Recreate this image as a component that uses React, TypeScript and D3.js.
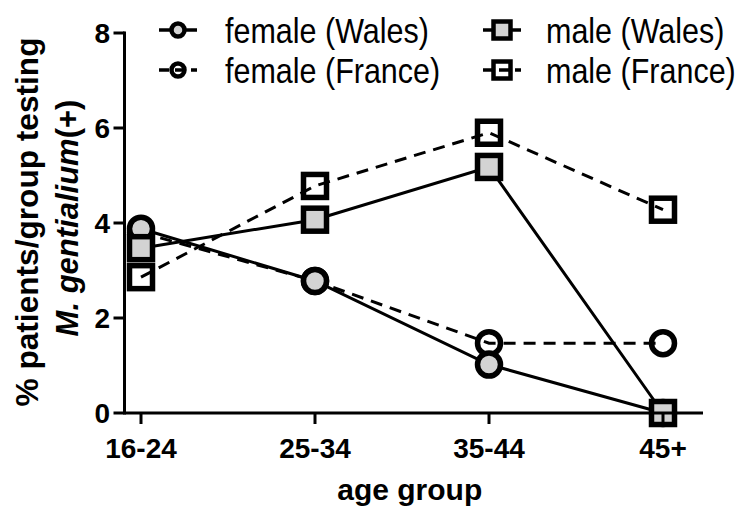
import * as d3 from 'd3';
import React from 'react';

// age groups on the x axis
const categories = ['16-24', '25-34', '35-44', '45+'];
const yTicks = [0, 2, 4, 6, 8];

// % patients per group testing positive
const femaleWales = [3.88, 2.78, 1.02, 0];
const femaleFrance = [3.8, 2.78, 1.47, 1.47];
const maleWales = [3.47, 4.07, 5.18, 0];
const maleFrance = [2.86, 4.78, 5.9, 4.28];

const seriesNames = ['female (Wales)', 'female (France)', 'male (Wales)', 'male (France)'];

const width = 743;
const height = 506;
const FONT = "'Liberation Sans', Arial, Helvetica, sans-serif";
const GREY = '#d3d3d3';

type Series = {
  name: string;
  values: number[];
  shape: 'circle' | 'square';
  dashed: boolean;
};

const series: Series[] = [
  { name: seriesNames[1], values: femaleFrance, shape: 'circle', dashed: true },
  { name: seriesNames[3], values: maleFrance, shape: 'square', dashed: true },
  { name: seriesNames[0], values: femaleWales, shape: 'circle', dashed: false },
  { name: seriesNames[2], values: maleWales, shape: 'square', dashed: false },
];

const x = d3.scalePoint<string>().domain(categories).range([141, 663]);
const y = d3.scaleLinear().domain([0, 8]).range([413, 33]);
const axisLeftX = 124.5;
const axisRightX = 703;

const line = d3
  .line<number>()
  .x((_, i) => x(categories[i]) as number)
  .y((d) => y(d));

const Marker = ({ cx, cy, shape, dashed, r, side, sw }: any) => {
  const fill = dashed ? 'none' : GREY;
  if (shape === 'circle') {
    return <circle cx={cx} cy={cy} r={r} fill={fill} stroke="#000" strokeWidth={sw} />;
  }
  return (
    <rect
      x={cx - side / 2}
      y={cy - side / 2}
      width={side}
      height={side}
      fill={fill}
      stroke="#000"
      strokeWidth={sw}
    />
  );
};

const legendItems = [
  { name: seriesNames[0], shape: 'circle', dashed: false, cx: 178, cy: 30, tx: 225 },
  { name: seriesNames[1], shape: 'circle', dashed: true, cx: 178, cy: 70, tx: 225 },
  { name: seriesNames[2], shape: 'square', dashed: false, cx: 502, cy: 30, tx: 546 },
  { name: seriesNames[3], shape: 'square', dashed: true, cx: 502, cy: 70, tx: 546 },
];

export default function App() {
  return (
    <div style={{ position: 'absolute', left: 0, top: 0 }}>
      <svg width={width} height={height} viewBox={`0 0 ${width} ${height}`} style={{ display: 'block', background: '#fff' }}>
        {/* series */}
        {series.map((s) => (
          <g key={s.name}>
            <path
              d={line(s.values) || ''}
              fill="none"
              stroke="#000"
              strokeWidth={3}
              strokeDasharray={s.dashed ? '12,8' : undefined}
            />
            {s.values.map((v, i) => (
              <Marker
                key={i}
                cx={x(categories[i])}
                cy={y(v)}
                shape={s.shape}
                dashed={s.dashed}
                r={11.5}
                side={23}
                sw={5.5}
              />
            ))}
          </g>
        ))}

        {/* axes */}
        <g stroke="#000" strokeWidth={3} fill="none">
          <line x1={axisLeftX} x2={axisLeftX} y1={y(8) - 1.5} y2={y(0) + 1.5} />
          <line x1={axisLeftX} x2={axisRightX} y1={y(0)} y2={y(0)} />
          {yTicks.map((t) => (
            <line key={t} x1={axisLeftX - 11} x2={axisLeftX} y1={y(t)} y2={y(t)} />
          ))}
          {categories.map((c) => (
            <line key={c} x1={x(c)} x2={x(c)} y1={y(0)} y2={y(0) + 11} />
          ))}
        </g>
        <g fontFamily={FONT} fontWeight="bold" fontSize={28} fill="#000">
          {yTicks.map((t) => (
            <text key={t} x={110} y={y(t) + 10} textAnchor="end">
              {t}
            </text>
          ))}
          {categories.map((c) => (
            <text key={c} x={x(c)} y={458} textAnchor="middle">
              {c}
            </text>
          ))}
        </g>

        {/* axis titles */}
        <text x={(axisLeftX + axisRightX) / 2 - 4} y={500} textAnchor="middle" fontFamily={FONT} fontWeight="bold" fontSize={30}>
          age group
        </text>
        <text
          transform="translate(38,222) rotate(-90)"
          textAnchor="middle"
          fontFamily={FONT}
          fontWeight="bold"
          fontSize={31}
          textLength={369}
          lengthAdjust="spacingAndGlyphs"
        >
          % patients/group testing
        </text>
        <text transform="translate(78,218) rotate(-90)" textAnchor="middle" fontFamily={FONT} fontWeight="bold" fontSize={31}>
          <tspan fontStyle="italic">M. gentialium</tspan>
          <tspan>(+)</tspan>
        </text>

        {/* legend */}
        {legendItems.map((d) => (
          <g key={d.name}>
            <line
              x1={d.cx - 19}
              x2={d.cx + 19}
              y1={d.cy}
              y2={d.cy}
              stroke="#000"
              strokeWidth={3.5}
              strokeDasharray={d.dashed ? '10,6' : undefined}
            />
            <Marker cx={d.cx} cy={d.cy} shape={d.shape} dashed={d.dashed} r={6.5} side={17} sw={4.5} />
            <text
              transform={`translate(${d.tx},${d.cy + 13}) scale(1,1.18)`}
              fontFamily={FONT}
              fontSize={30.5}
            >
              {d.name}
            </text>
          </g>
        ))}
      </svg>
    </div>
  );
}
